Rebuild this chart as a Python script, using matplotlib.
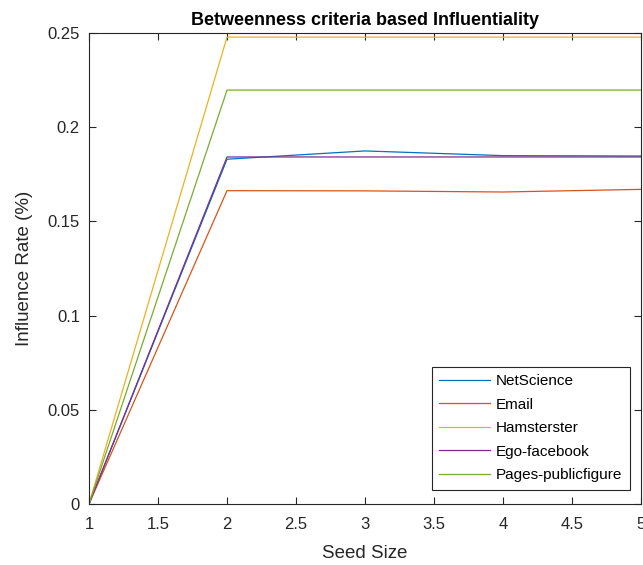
import matplotlib
matplotlib.use("Agg")
import matplotlib.pyplot as plt

plt.rcParams['font.family'] = ['Liberation Sans', 'DejaVu Sans']

seed_size = [1, 2, 3, 4, 5]
netscience = [0.0, 0.1830, 0.1874, 0.1849, 0.1847]
email = [0.0, 0.1663, 0.1662, 0.1656, 0.1670]
hamsterster = [0.0, 0.2478, 0.2478, 0.2478, 0.2478]
ego_facebook = [0.0, 0.1842, 0.1842, 0.1842, 0.1842]
pages_publicfigure = [0.0, 0.2197, 0.2197, 0.2197, 0.2197]

names = ["NetScience", "Email", "Hamsterster", "Ego-facebook", "Pages-publicfigure"]
series = [netscience, email, hamsterster, ego_facebook, pages_publicfigure]
colors = [(0, 0.447, 0.741), (0.85, 0.325, 0.098), (0.929, 0.694, 0.125),
          (0.494, 0.184, 0.556), (0.466, 0.674, 0.188)]

fig = plt.figure(figsize=(6.43, 5.65), dpi=100)
ax = fig.add_axes([0.1384, 0.108, 0.8586, 0.8336])

for name, vals, c in zip(names, series, colors):
    ax.plot(seed_size, vals, color=c, lw=0.9, label=name)

ax.set_xlim(1, 5)
ax.set_ylim(0, 0.25)
ax.set_xticks([1, 1.5, 2, 2.5, 3, 3.5, 4, 4.5, 5])
ax.set_xticklabels(["1", "1.5", "2", "2.5", "3", "3.5", "4", "4.5", "5"])
ax.set_yticks([0, 0.05, 0.1, 0.15, 0.2, 0.25])
ax.set_yticklabels(["0", "0.05", "0.1", "0.15", "0.2", "0.25"])

axis_gray = (0.15, 0.15, 0.15)
for s in ax.spines.values():
    s.set_color(axis_gray)
    s.set_linewidth(0.8)
ax.tick_params(direction='in', top=True, right=True, length=5, width=0.8,
               color=axis_gray, labelcolor=axis_gray, labelsize=12)
ax.tick_params(axis='x', pad=9.5)
ax.tick_params(axis='y', pad=6.5)

ax.set_xlabel("Seed Size", fontsize=13.5, color=axis_gray)
ax.set_ylabel("Influence Rate (%)", fontsize=13.5, color=axis_gray)
ax.xaxis.set_label_coords(0.5, -0.087)
ax.yaxis.set_label_coords(-0.102, 0.5)
ax.set_title("Betweenness criteria based Influentiality", fontsize=13,
             fontweight='bold', pad=6)

leg = ax.legend(loc='lower right', bbox_to_anchor=(0.98, 0.03), fontsize=11,
                fancybox=False, framealpha=1, edgecolor=axis_gray,
                handlelength=3.3, handletextpad=0.4, borderpad=0.5,
                labelspacing=0.62, borderaxespad=0)
leg.get_frame().set_linewidth(0.8)

fig.savefig("out.png", dpi=100)
